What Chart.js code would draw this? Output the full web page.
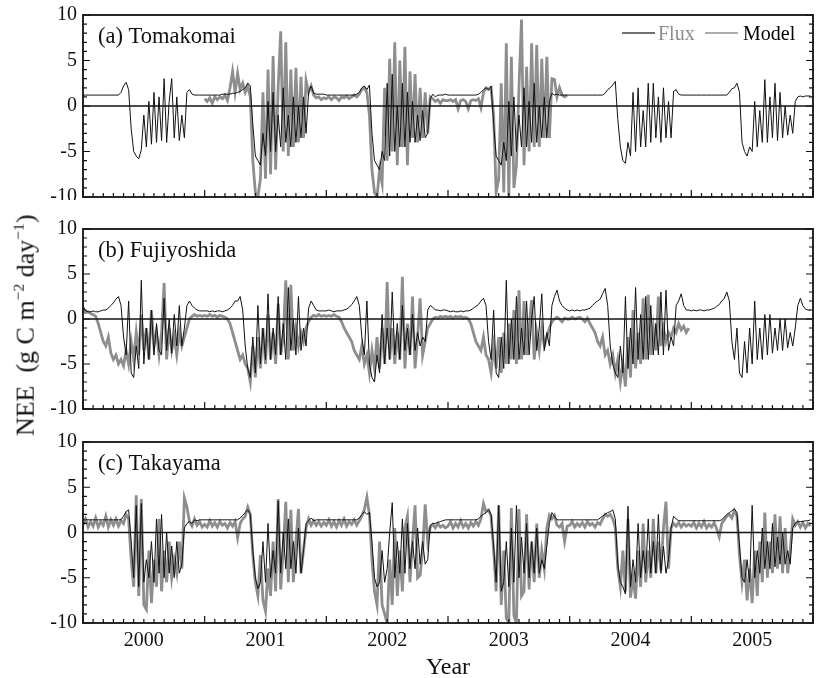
<!DOCTYPE html>
<html>
<head>
<meta charset="utf-8">
<script src="https://cdn.jsdelivr.net/npm/chart.js@4"></script>
<style>
  body { margin: 0; background: #fff; overflow: hidden; }
  #wrap { position: relative; width: 819px; height: 678px; }
  canvas { position: absolute; left: 0; }
  #ylab {
    position: absolute; left: -108px; top: 307px; width: 260px; line-height: 30px;
    text-align: center; transform: rotate(-90deg); white-space: nowrap;
    font-family: "Liberation Serif", serif; font-size: 26px; color: #111;
  }
  #ylab sup { font-size: 0.6em; }
</style>
</head>
<body>
<div id="wrap">
  <canvas id="cA" width="819" height="200" style="top:0"></canvas>
  <canvas id="cB" width="819" height="200" style="top:214px"></canvas>
  <canvas id="cC" width="819" height="251" style="top:427px"></canvas>
  <div id="ylab">NEE&nbsp; (g C m<sup>&minus;2</sup> day<sup>&minus;1</sup>)</div>
</div>
<script>
// one value every quarter month, Jan 2000 .. Dec 2005 (48 per year)
var yearLabels = ['2000', '2001', '2002', '2003', '2004', '2005'];
var stepMonths = 0.25;

// (a) Tomakomai
var tomaModel = [
  1.2,1.2,1.2,1.2,1.2,1.2,1.2,1.2,1.2,1.2,1.2,1.2,1.2,1.2,1.2,1.5,2.2,2.6,1.8,-2.5,-5.0,-5.5,-5.8,-4.8,-1.0,-4.5,0.5,-4.2,1.5,-4.0,1.0,-3.8,3.0,-4.0,0.5,3.0,-3.5,1.0,-3.8,-1.0,-3.5,1.5,1.8,1.3,1.2,1.2,1.2,1.2,
  1.2,1.2,1.2,1.2,1.2,1.2,1.2,1.3,1.3,1.3,1.3,1.4,1.4,1.5,1.6,1.8,2.0,2.5,2.2,-2.0,-5.5,-6.0,-6.5,-3.0,-5.5,0.5,-5.0,1.5,-5.0,-1.0,-4.5,2.0,-4.0,-1.0,-4.5,1.0,-4.0,0.0,-3.5,1.0,-3.0,1.5,2.2,1.4,1.3,1.3,1.3,1.3,
  1.2,1.2,1.2,1.2,1.2,1.2,1.2,1.2,1.2,1.2,1.2,1.2,1.3,1.5,2.0,2.2,1.8,2.3,-3.0,-6.0,-6.5,-7.0,-5.0,-6.0,2.5,-5.5,3.5,-5.0,0.0,-4.5,2.5,-4.5,1.5,-4.0,0.5,-4.0,-1.0,-3.8,-0.5,-3.5,-3.0,0.8,1.3,1.0,1.2,1.2,1.2,1.3,
  1.2,1.2,1.2,1.2,1.2,1.2,1.2,1.2,1.2,1.2,1.2,1.2,1.3,1.5,1.8,2.0,1.8,2.2,-2.0,-5.5,-6.0,-6.5,-4.0,-6.0,0.5,-5.5,1.0,-5.0,-1.0,-4.5,2.0,-4.5,0.5,-4.0,2.5,-4.0,0.0,-3.5,1.0,-3.5,0.5,1.4,1.2,1.3,1.2,1.2,1.2,1.2,
  1.2,1.2,1.2,1.2,1.2,1.2,1.2,1.2,1.2,1.2,1.2,1.2,1.2,1.2,1.4,1.8,2.0,2.3,2.7,-1.5,-4.5,-6.0,-6.3,-4.0,-5.5,1.5,-5.0,2.0,-4.5,-0.5,-4.5,2.5,-4.0,2.5,-3.5,1.0,-4.0,2.0,-3.5,0.5,-3.5,1.6,1.8,1.3,1.2,1.2,1.2,1.2,
  1.2,1.2,1.2,1.2,1.2,1.2,1.2,1.2,1.2,1.2,1.2,1.2,1.2,1.2,1.2,1.5,1.9,2.0,2.5,1.5,-4.0,-5.0,-5.5,-4.5,-5.0,0.5,-4.5,-0.5,-4.0,2.9,-4.0,1.0,-3.5,2.5,-3.8,1.5,-3.5,0.0,-3.2,-1.0,-3.0,0.5,1.0,1.1,1.0,1.1,1.1,1.1
];
// flux record 2001-2003 only
var tomaFluxFirstYear = 1;
var tomaFlux = [
  0.8,0.5,0.9,0.3,1.0,0.7,1.0,0.8,1.2,0.6,2.0,3.8,1.5,3.6,1.8,2.5,1.5,2.2,1.0,-6.0,-9.5,-10.0,-8.0,1.5,-8.0,4.0,-7.5,5.5,-7.0,2.0,8.2,-5.0,7.0,-5.5,4.0,-4.5,4.2,-4.0,3.2,-3.5,2.8,1.5,2.2,1.2,0.9,1.0,0.7,0.9,
  0.8,1.0,0.7,1.0,0.9,0.6,1.0,0.9,1.1,0.8,1.0,1.2,1.0,1.3,1.8,2.0,1.5,-1.0,-7.0,-9.5,-10.0,-7.0,-8.5,2.0,-6.0,5.2,-5.0,7.0,-6.5,5.0,-4.5,6.5,-6.5,3.8,-3.5,3.5,-4.0,2.0,-3.5,1.5,-3.0,1.0,0.8,0.5,0.7,0.3,0.7,0.6,
  0.6,0.7,0.5,0.7,-0.3,0.6,0.7,0.5,-0.3,0.6,0.7,0.6,0.8,-0.2,1.5,2.0,1.8,2.0,-1.0,-9.5,-8.0,2.5,-9.5,6.9,-10.0,5.4,-9.0,-6.5,2.0,9.5,-6.5,4.3,-5.0,6.9,-4.5,6.7,-4.5,5.2,-3.5,5.4,-3.5,3.0,2.9,1.0,2.0,1.2,1.0,1.2
];

// (b) Fujiyoshida
var fujiModel = [
  1.5,0.9,0.8,0.8,0.9,0.8,0.8,0.9,1.0,1.0,1.2,1.5,1.8,2.2,2.5,1.5,-2.0,-4.0,2.0,-6.0,-6.5,-3.0,-5.5,4.3,-5.0,-1.0,-4.5,1.0,-4.0,-0.5,-3.5,-4.0,2.3,-3.5,0.0,-3.8,0.5,-3.0,1.5,-3.0,-1.0,1.5,2.0,1.5,1.2,1.0,0.9,0.9,
  0.9,0.9,0.8,0.9,0.8,0.9,0.9,0.8,0.9,1.0,1.2,1.5,2.0,2.0,2.5,1.0,-3.0,-5.5,-6.5,-2.0,-6.0,1.5,-5.0,-1.0,-4.5,2.8,-4.5,-1.0,-4.0,2.5,-4.0,-0.5,-4.5,3.5,-3.5,0.0,-4.0,2.5,-3.5,-1.0,-3.0,1.2,2.0,1.5,1.0,0.9,0.9,0.9,
  0.9,1.0,0.9,0.8,0.9,0.9,0.9,1.0,1.1,1.3,1.6,2.0,2.5,1.5,-2.0,-4.0,2.0,-5.0,-6.5,-7.0,-4.0,-6.0,0.5,-5.0,-1.0,-4.5,3.0,-4.0,-0.5,-4.5,1.5,-3.5,-1.0,-4.0,0.5,-3.5,-1.5,-3.0,-2.0,-2.5,1.0,1.5,1.3,1.0,1.0,0.9,1.0,1.0,
  0.9,0.8,0.9,0.8,0.8,0.9,0.8,0.9,0.9,1.0,1.2,1.4,1.6,2.0,2.3,1.5,-2.5,-4.5,1.0,-6.0,-6.5,-2.0,-5.5,4.3,-5.0,0.0,-4.5,2.5,-4.5,-1.0,-4.0,2.0,-4.0,0.0,2.5,-3.5,-1.0,2.8,-3.5,-1.5,-3.0,1.5,2.5,3.2,2.0,1.5,1.2,1.0,
  0.9,1.0,0.9,1.0,0.9,1.0,1.0,1.1,1.2,1.5,1.8,2.0,2.2,2.8,3.4,1.5,-3.0,-5.0,-6.0,-6.5,-3.0,-6.0,2.5,-5.5,-1.0,-5.0,3.5,-4.5,0.5,-4.5,2.5,-4.5,1.5,-4.0,-0.5,-4.0,3.0,-4.0,3.2,-3.5,-2.0,-3.0,1.5,2.0,2.8,1.5,1.0,1.0,
  0.9,1.0,0.9,1.0,1.0,0.9,1.0,1.0,1.1,1.2,1.4,1.6,2.0,2.3,3.0,2.0,-2.5,-4.5,-1.0,-6.0,-6.5,-2.5,-6.0,-1.0,-5.0,2.0,-4.5,-1.0,-4.5,0.5,-4.0,0.5,-3.8,-1.0,-3.5,0.0,-3.5,0.0,-3.2,-1.5,-3.0,-1.0,1.5,2.3,1.5,1.1,1.0,1.0
];
// flux record 2000-2004
var fujiFluxFirstYear = 0;
var fujiFlux = [
  0.8,0.7,0.8,0.6,0.5,0.3,-0.5,-1.5,-2.5,-3.0,-2.0,-3.8,-4.5,-4.0,-5.0,-4.5,-5.2,-3.5,-5.0,-2.5,-4.5,-1.5,-4.0,0.5,-3.5,-1.0,-4.5,1.0,-3.0,-1.5,-4.0,-1.5,4.0,-4.5,-1.0,-3.5,-2.0,-4.0,-1.5,-3.0,-2.0,-1.0,0.0,0.3,0.5,0.3,0.4,0.3,
  0.4,0.3,0.5,0.3,0.4,0.2,0.4,0.3,0.2,0.0,-0.5,-1.5,-2.5,-3.5,-4.5,-4.0,-5.0,-5.5,-7.0,-3.0,-6.5,-2.0,-5.5,-1.0,-5.0,0.5,-4.5,-1.5,-5.0,1.7,-4.0,-2.0,4.3,-4.5,3.8,-3.5,-1.0,-3.0,-1.5,-2.5,-1.0,-0.3,0.2,0.4,0.3,0.5,0.3,0.4,
  0.3,0.4,0.3,0.5,0.3,0.2,-0.3,-1.0,-1.5,-2.0,-2.5,-3.5,-4.0,-4.5,-3.0,-5.0,-4.0,-6.0,-3.5,-5.5,-2.0,-5.5,-1.0,-5.0,4.1,-4.5,-1.0,-5.0,-1.5,-4.5,4.7,-5.5,-0.5,-4.0,2.5,-5.5,-2.0,2.3,-4.0,-2.5,-1.0,-0.5,0.0,0.2,0.1,0.3,0.2,0.3,
  0.2,0.3,0.1,0.3,0.2,0.3,0.1,0.2,0.0,-0.5,-1.5,-2.5,-3.0,-3.5,-2.0,-4.0,-4.5,-6.0,-3.0,-5.5,-2.0,-6.0,-1.5,-5.0,-0.5,-4.5,1.0,-5.0,3.2,-4.5,2.0,-4.0,-1.0,2.1,-4.5,-1.5,-3.5,-1.0,-3.0,-2.0,-1.0,-0.3,0.0,0.2,0.0,-0.3,0.1,0.0,
  0.0,0.2,0.0,0.1,0.2,0.0,-0.3,0.1,-0.5,-1.0,-1.5,-2.5,-3.0,-2.0,-4.0,-3.5,-5.0,-4.0,-6.0,-4.5,-7.0,-5.0,-7.5,-2.0,-6.5,1.0,-5.5,-1.5,-5.0,2.3,-4.5,2.7,-4.0,-1.0,-3.5,2.5,-3.0,-1.0,-2.5,-1.5,-2.0,-1.0,-1.5,-0.5,-1.2,-0.8,-1.5,-1.0
];

// (c) Takayama
var takaModel = [
  1.4,1.4,1.4,1.4,1.4,1.4,1.4,1.4,1.4,1.4,1.4,1.4,1.4,1.4,1.4,1.4,1.8,2.3,2.5,-1.0,-5.0,3.0,-6.0,3.2,-5.5,-3.0,-5.0,-1.0,-5.5,1.5,-4.5,2.0,-5.0,0.0,-4.5,-1.5,-5.0,-1.0,-4.5,-3.5,0.5,1.0,1.2,1.0,1.4,1.3,1.4,1.4,
  1.4,1.4,1.4,1.4,1.4,1.4,1.4,1.4,1.4,1.4,1.4,1.4,1.4,1.4,1.6,1.9,2.2,2.5,2.0,-2.0,-5.0,-6.2,-5.5,-1.0,-5.5,1.0,-5.0,-2.0,-4.5,3.5,-4.5,0.0,-4.0,1.5,-4.0,-1.0,-4.5,0.5,-4.5,-2.0,1.0,1.3,1.6,1.3,1.4,1.4,1.4,1.4,
  1.4,1.4,1.4,1.4,1.4,1.4,1.4,1.4,1.4,1.4,1.4,1.4,1.4,1.6,2.0,2.3,2.0,2.2,-1.0,-5.0,-6.0,-5.5,-2.0,-5.5,-4.0,0.0,3.3,-5.0,-1.0,-4.5,1.5,-4.5,1.0,-4.0,-1.0,-4.0,0.5,-3.5,-1.0,-3.5,-3.0,0.8,1.0,1.0,1.1,1.2,1.3,1.4,
  1.4,1.4,1.4,1.4,1.4,1.4,1.4,1.4,1.4,1.4,1.4,1.4,1.5,1.8,2.0,2.2,2.5,2.0,-1.5,-5.5,3.0,-6.5,-5.5,-1.0,-6.0,0.5,-5.5,3.0,-5.0,-0.5,-4.5,1.0,-5.0,-1.0,-4.5,0.5,-4.5,-3.0,-4.0,-1.5,1.0,2.2,1.8,1.4,1.4,1.4,1.4,1.4,
  1.4,1.4,1.4,1.4,1.4,1.4,1.4,1.4,1.4,1.4,1.4,1.4,1.6,1.8,2.0,2.2,2.3,2.5,1.5,-3.5,-5.5,-6.0,-6.8,2.9,-6.0,-3.0,-5.5,1.0,-5.0,-2.0,-4.5,1.5,-4.5,-1.0,-4.5,2.0,-4.5,-1.5,-4.5,-3.0,0.5,1.8,1.5,1.3,1.3,1.3,1.3,1.3,
  1.3,1.3,1.3,1.3,1.3,1.3,1.3,1.3,1.3,1.3,1.3,1.3,1.4,1.7,2.0,2.2,2.4,2.6,2.2,-1.5,-5.0,-5.5,-3.0,-5.5,3.0,-5.0,-2.0,-4.5,0.5,-4.0,-1.0,-4.0,1.0,-3.8,-0.5,-3.5,0.0,-3.5,-2.0,-3.5,0.5,1.0,1.2,1.2,1.2,1.3,1.3,1.4
];
var takaFluxFirstYear = 0;
var takaFlux = [
  0.8,1.5,0.6,1.2,0.7,1.6,0.6,1.2,0.8,1.8,0.6,1.4,0.8,1.5,0.7,1.3,1.0,2.0,1.5,-3.0,-6.0,4.1,-7.0,3.7,-8.0,-8.5,-2.0,-7.8,-3.0,-6.0,1.5,-6.5,-2.0,-5.5,-1.0,-5.0,-3.0,-4.5,-1.0,-4.0,3.8,2.8,1.2,0.7,1.5,0.8,1.2,0.6,
  0.9,0.6,1.3,0.7,1.1,0.6,1.2,0.8,1.0,0.5,1.1,0.7,1.2,-0.6,1.0,1.5,1.8,2.8,2.0,-2.5,-5.5,-7.0,-2.5,-7.5,-8.7,-4.0,-7.0,-1.0,-6.5,3.7,-6.3,-2.0,3.4,-5.5,2.5,-5.5,-1.0,2.6,-4.5,-2.0,0.5,1.5,0.8,1.3,0.8,1.2,0.7,1.1,
  0.8,1.4,0.7,1.2,0.6,1.3,0.8,1.5,0.7,1.2,0.9,1.4,0.8,1.3,1.8,2.5,3.9,2.0,-3.0,-6.5,-8.0,-1.0,-8.0,-9.0,-10.0,-3.0,-8.0,0.5,-7.0,-2.0,-6.5,0.5,1.8,-5.5,-1.0,3.0,-5.0,-4.7,-2.0,3.1,-1.0,0.6,0.9,0.5,1.0,0.6,0.8,0.5,
  0.7,1.2,0.5,1.0,0.6,1.3,0.6,1.0,0.5,1.1,0.7,1.2,0.8,1.5,3.2,2.3,2.5,1.8,-2.0,-6.5,3.0,-8.0,-2.0,-9.5,-10.0,2.7,-9.2,-10.0,2.6,-7.0,-6.5,2.0,-6.3,-1.0,-5.5,1.0,-5.0,-2.0,-4.0,0.5,1.9,1.5,1.9,0.8,0.6,1.0,-1.0,0.7,
  0.8,1.2,0.6,1.0,0.7,1.1,0.6,1.2,0.8,1.0,0.6,1.1,0.9,1.5,2.0,1.8,2.0,1.5,0.5,-4.0,-6.0,-2.0,-6.5,1.5,-7.2,-5.0,-7.3,-2.0,-6.0,1.0,-5.5,-2.0,-5.0,1.5,-4.5,-1.0,-4.2,0.5,3.4,-4.0,0.5,1.0,0.7,1.1,0.6,1.0,0.7,0.9,
  0.7,1.1,0.5,1.0,0.6,1.2,0.5,0.9,0.6,1.1,0.4,-0.5,1.0,1.4,1.8,2.0,1.6,2.4,1.8,-2.5,-5.5,-3.0,-7.5,-4.0,-7.8,-2.0,-7.0,-1.0,-5.5,2.2,-5.0,-1.0,-4.5,2.0,-4.0,1.8,-4.5,0.5,-4.5,-2.0,1.5,0.8,1.2,0.6,1.1,0.5,1.0,0.7
];

var months = [];
for (var i = 0; i < yearLabels.length * 48; i++) months.push(i * stepMonths);

function toPoints(vals, firstYear) {
  var off = (firstYear || 0) * 48;
  return months.map(function (m, i) {
    var v = vals[i - off];
    return { x: m, y: v === undefined ? null : v };
  });
}

Chart.defaults.font.family = '"Liberation Serif", "Times New Roman", serif';
Chart.defaults.color = '#111';

var panelDecor = {
  id: 'panelDecor',
  afterDatasetsDraw: function (chart, args, o) {
    var ctx = chart.ctx, a = chart.chartArea, x = chart.scales.x, y = chart.scales.y;
    ctx.save();
    ctx.strokeStyle = '#111';
    ctx.lineWidth = 1.5;
    var y0 = y.getPixelForValue(0);
    ctx.beginPath(); ctx.moveTo(a.left, y0); ctx.lineTo(a.right, y0); ctx.stroke();
    ctx.lineWidth = 1.8;
    ctx.strokeRect(a.left, a.top, a.right - a.left, a.bottom - a.top);
    ctx.lineWidth = 1.2;
    ctx.beginPath();
    for (var v = -10; v <= 10; v++) {
      var p = y.getPixelForValue(v), len = v % 5 === 0 ? 7 : 4;
      ctx.moveTo(a.left, p); ctx.lineTo(a.left + len, p);
      ctx.moveTo(a.right, p); ctx.lineTo(a.right - len, p);
    }
    for (var m = 0; m <= 72; m++) {
      var q = x.getPixelForValue(m), l2 = m % 12 === 0 ? 7 : 4;
      ctx.moveTo(q, a.bottom); ctx.lineTo(q, a.bottom - l2);
    }
    ctx.stroke();
    ctx.fillStyle = '#111';
    ctx.font = '22.5px "Liberation Serif"';
    ctx.textBaseline = 'alphabetic';
    ctx.fillText(o.label, a.left + 15, a.top + 28);
    if (o.legend) {
      var ly = a.top + 18;
      ctx.lineWidth = 2;
      ctx.strokeStyle = '#707070';
      ctx.beginPath(); ctx.moveTo(a.right - 191, ly); ctx.lineTo(a.right - 158, ly); ctx.stroke();
      ctx.font = '20px "Liberation Serif"';
      ctx.fillStyle = '#8c8c8c';
      ctx.fillText('Flux', a.right - 155, a.top + 25);
      ctx.lineWidth = 1.5;
      ctx.strokeStyle = '#909090';
      ctx.beginPath(); ctx.moveTo(a.right - 108, ly); ctx.lineTo(a.right - 75, ly); ctx.stroke();
      ctx.fillStyle = '#000';
      ctx.fillText('Model', a.right - 70, a.top + 25);
    }
    ctx.restore();
  }
};

function noPad(s) { s.paddingTop = 0; s.paddingBottom = 0; s.paddingLeft = 0; s.paddingRight = 0; }

function makePanel(id, label, model, flux, fluxFirstYear, pad, showX, legend) {
  var xScale = {
    type: 'linear', min: 0, max: 72, display: showX,
    grid: { display: false, drawTicks: false }, border: { display: false }
  };
  if (showX) {
    xScale.afterBuildTicks = function (s) {
      s.ticks = yearLabels.map(function (t, i) { return { value: i * 12 + 6 }; });
    };
    xScale.ticks = {
      autoSkip: false, maxRotation: 0, padding: 6, font: { size: 20 },
      callback: function (v) { return yearLabels[Math.floor(v / 12)]; }
    };
    xScale.title = { display: true, text: 'Year', font: { size: 24 }, padding: { top: 0, bottom: -4 } };
    xScale.afterFit = function (s) { s.height = 55; noPad(s); };
  }
  return new Chart(document.getElementById(id), {
    type: 'line',
    data: {
      datasets: [
        { label: 'Model', data: toPoints(model, 0), borderColor: '#111', borderWidth: 1,
          pointRadius: 0, tension: 0 },
        { label: 'Flux', data: toPoints(flux, fluxFirstYear), borderColor: '#8e8e8e', borderWidth: 2.8,
          pointRadius: 0, tension: 0, spanGaps: false }
      ]
    },
    options: {
      responsive: false, animation: false, devicePixelRatio: 1,
      layout: { padding: pad },
      plugins: { legend: { display: false }, tooltip: { enabled: false },
        panelDecor: { label: label, legend: legend } },
      scales: {
        x: xScale,
        y: {
          min: -10, max: 10,
          ticks: { stepSize: 5, padding: 6, font: { size: 20 }, callback: function (v) { return String(v); } },
          grid: { display: false, drawTicks: false }, border: { display: false },
          afterFit: function (s) { s.width = 83; noPad(s); }
        }
      }
    },
    plugins: [panelDecor]
  });
}

makePanel('cA', '(a) Tomakomai', tomaModel, tomaFlux, tomaFluxFirstYear,
  { top: 15, bottom: 3, left: 0, right: 6 }, false, true);
makePanel('cB', '(b) Fujiyoshida', fujiModel, fujiFlux, fujiFluxFirstYear,
  { top: 15, bottom: 5, left: 0, right: 6 }, false, false);
makePanel('cC', '(c) Takayama', takaModel, takaFlux, takaFluxFirstYear,
  { top: 15, bottom: 0, left: 0, right: 6 }, true, false);
</script>
</body>
</html>
